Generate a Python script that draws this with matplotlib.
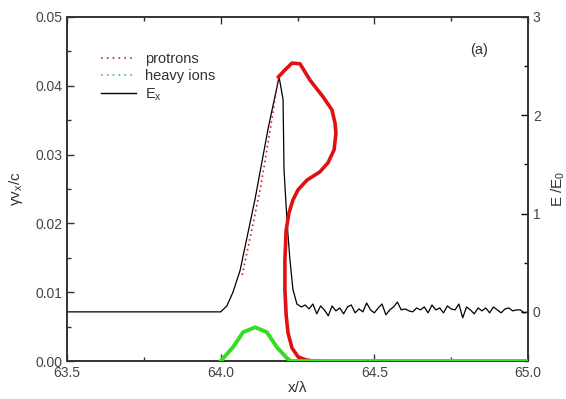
import matplotlib
matplotlib.use("Agg")
import matplotlib.pyplot as plt
from matplotlib.lines import Line2D

plt.rcParams['font.family'] = ['Liberation Sans', 'DejaVu Sans']
plt.rcParams['mathtext.fontset'] = 'custom'
plt.rcParams['mathtext.rm'] = 'Liberation Sans'

# ---- data ----
# E_x field (right axis, E/E0)
ex_x = [63.50, 64.00, 64.02, 64.04, 64.063, 64.112, 64.154, 64.19, 64.203, 64.206, 64.216,
        64.225, 64.235, 64.248,
        64.2625, 64.275, 64.2875, 64.30, 64.3125, 64.325, 64.3375, 64.35, 64.3625, 64.375,
        64.3875, 64.40, 64.4125, 64.425, 64.4375, 64.45, 64.4625, 64.475, 64.4875, 64.50,
        64.5125, 64.525, 64.5375, 64.55, 64.5625, 64.575, 64.5875, 64.60, 64.6125, 64.625,
        64.6375, 64.65, 64.6625, 64.675, 64.6875, 64.70, 64.7125, 64.725, 64.7375, 64.75,
        64.7625, 64.775, 64.7875, 64.80, 64.8125, 64.825, 64.8375, 64.85, 64.8625, 64.875,
        64.8875, 64.90, 64.9125, 64.925, 64.9375, 64.95, 64.9625, 64.975, 64.9875, 65.00]
ex_val = [0.0, 0.0, 0.06, 0.20, 0.42, 1.15, 1.86, 2.39, 2.16, 1.45, 0.91,
          0.54, 0.23, 0.08,
          0.05, 0.07, 0.03, 0.08, -0.02, 0.06, 0.02, -0.04, 0.06, 0.01,
          0.04, -0.02, 0.05, 0.07, -0.01, 0.03, 0.00, 0.09, 0.02, -0.01,
          0.04, 0.08, -0.03, 0.02, 0.05, 0.10, 0.02, 0.03, 0.01, 0.00,
          0.04, 0.02, 0.05, -0.01, 0.07, 0.02, 0.04, -0.01, 0.06, 0.03,
          0.02, 0.08, -0.06, 0.05, 0.02, -0.02, 0.04, 0.01, 0.04, -0.01,
          0.05, 0.02, -0.01, 0.03, 0.04, 0.01, 0.02, 0.02, -0.01, 0.0]

# protons phase space (x, gamma v_x / c)
prot_edge_x = [64.07, 64.10, 64.13, 64.16, 64.188]
prot_edge_v = [0.0125, 0.0188, 0.0253, 0.0333, 0.0413]
prot_loop_x = [64.188, 64.209, 64.232, 64.258, 64.291, 64.333, 64.362, 64.372, 64.375,
               64.369, 64.349, 64.323, 64.281, 64.252, 64.235, 64.222, 64.213, 64.209,
               64.209, 64.213, 64.219, 64.232, 64.252, 64.275, 64.30, 64.33]
prot_loop_v = [0.0413, 0.0423, 0.0433, 0.0432, 0.0408, 0.0384, 0.0365, 0.0346, 0.0331,
               0.0307, 0.0288, 0.0275, 0.0263, 0.0249, 0.0234, 0.0215, 0.0190, 0.0147,
               0.0103, 0.0067, 0.0041, 0.0019, 0.0006, 0.0002, 0.0, 0.0]

# heavy ions phase space
ion_x = [64.00, 64.04, 64.073, 64.112, 64.15, 64.183, 64.216, 64.23, 64.5, 65.0]
ion_v = [0.0, 0.0020, 0.0042, 0.0049, 0.0042, 0.0020, 0.0004, 0.0, 0.0, 0.0]

x_ticks = [63.5, 64.0, 64.5, 65.0]
x_ticklabels = ['63.5', '64.0', '64.5', '65.0']
y_ticks = [0.0, 0.01, 0.02, 0.03, 0.04, 0.05]
y_ticklabels = ['0.00', '0.01', '0.02', '0.03', '0.04', '0.05']
y2_ticks = [0, 1, 2, 3]
legend_labels = ["protrons", "heavy ions", "E$_\\mathrm{x}$"]

# ---- figure ----
fig = plt.figure(figsize=(5.66, 3.99), dpi=100)
ax = fig.add_axes([0.1184, 0.0952, 0.8145, 0.8622])
ax2 = ax.twinx()

ax2.plot(ex_x, ex_val, color='black', lw=0.9, zorder=3)
ax.plot(prot_edge_x, prot_edge_v, color='#cc2222', lw=1.2, ls=(0, (1, 2)), zorder=4)
ax.plot(prot_loop_x, prot_loop_v, color='#dd1111', lw=2.6, zorder=4)
ax.plot(ion_x, ion_v, color='#33dd22', lw=2.8, zorder=5)

ax.set_xlim(63.5, 65.0)
ax.set_ylim(0.0, 0.05)
ax2.set_ylim(-0.5, 3.0)
ax.set_zorder(ax2.get_zorder() + 1)
ax.patch.set_visible(False)

ax.set_xticks(x_ticks)
ax.set_xticklabels(x_ticklabels)
ax.set_xticks([63.75, 64.25, 64.75], minor=True)
ax.set_yticks(y_ticks)
ax.set_yticklabels(y_ticklabels)
ax.set_yticks([0.005, 0.015, 0.025, 0.035, 0.045], minor=True)
ax2.set_yticks(y2_ticks)
ax2.set_yticks([-0.5, 0.5, 1.5, 2.5], minor=True)

ax.tick_params(axis='both', which='both', direction='in', top=True, labelsize=10,
               colors='#333333', labelcolor='#444444')
ax.tick_params(axis='y', which='both', right=False)
ax.tick_params(which='major', length=5, width=1)
ax.tick_params(which='minor', length=3, width=1)
ax2.tick_params(axis='y', which='both', direction='in', labelsize=10, labelcolor='#444444')
ax2.tick_params(which='major', length=5, width=1)
ax2.tick_params(which='minor', length=3, width=1)
for a in (ax, ax2):
    for s in a.spines.values():
        s.set_linewidth(1.2)
        s.set_color('#333333')

ax.set_xlabel("x/λ", fontsize=11, color='#333333', labelpad=1)
ax.set_ylabel("γv$_\\mathrm{x}$/c", fontsize=11, color='#333333', labelpad=7)
ax2.set_ylabel("E /E$_\\mathrm{0}$", fontsize=11, color='#333333', labelpad=6)

ax.text(64.84, 0.0452, "(a)", fontsize=10.5, color='#333333', ha='center', va='center')

handles = [Line2D([], [], color='#cc2222', lw=1.2, ls=(0, (1, 2.5))),
           Line2D([], [], color='#33cc55', lw=1.2, ls=(0, (1, 2.5))),
           Line2D([], [], color='black', lw=1.0)]
ax.legend(handles, legend_labels, loc='upper left', bbox_to_anchor=(0.045, 0.935),
          frameon=False, fontsize=10.5, handlelength=2.4, handletextpad=0.6,
          labelspacing=0.2, labelcolor='#333333')

fig.savefig("out.png", dpi=100)
